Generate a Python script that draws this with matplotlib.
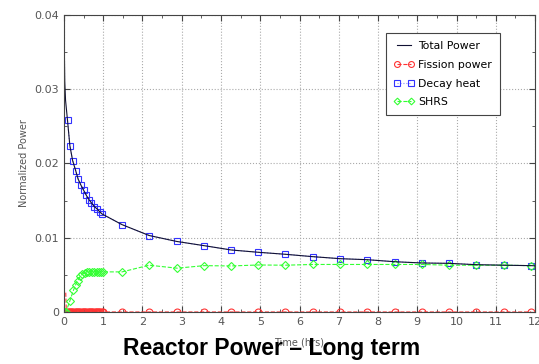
import matplotlib
matplotlib.use("Agg")
import matplotlib.pyplot as plt
from matplotlib.ticker import MultipleLocator

# Decay heat (blue squares)
decay_t = [0.09, 0.15, 0.22, 0.30, 0.36, 0.43, 0.50, 0.57, 0.64, 0.70, 0.77, 0.84, 0.91, 0.97,
           1.48, 2.17, 2.87, 3.56, 4.26, 4.95, 5.64, 6.34, 7.03, 7.73, 8.42, 9.12, 9.81, 10.5, 11.2, 11.9]
decay_v = [0.0258, 0.0224, 0.0204, 0.0190, 0.0179, 0.0171, 0.0164, 0.0157, 0.0151, 0.0147, 0.0142,
           0.0139, 0.0135, 0.0132, 0.01176, 0.0103, 0.0095, 0.00894, 0.00835, 0.00804, 0.00777,
           0.00745, 0.00718, 0.00704, 0.00677, 0.0066, 0.00655, 0.00637, 0.0063, 0.00624]

# Total power (black line)
total_t = [0.0, 0.01, 0.02, 0.04, 0.09, 0.15, 0.22, 0.30, 0.36, 0.43, 0.50, 0.57, 0.64, 0.70, 0.77,
           0.84, 0.91, 0.97, 1.48, 2.17, 2.87, 3.56, 4.26, 4.95, 5.64, 6.34, 7.03, 7.73, 8.42, 9.12,
           9.81, 10.5, 11.2, 11.9, 12.0]
total_v = [0.0388, 0.035, 0.031, 0.0285, 0.0258, 0.0224, 0.0204, 0.0190, 0.0179, 0.0171, 0.0164,
           0.0157, 0.0151, 0.0147, 0.0142, 0.0139, 0.0135, 0.0132, 0.01176, 0.0103, 0.0095, 0.00894,
           0.00835, 0.00804, 0.00777, 0.00745, 0.00718, 0.00704, 0.00677, 0.0066, 0.00655, 0.00637,
           0.0063, 0.00624, 0.00622]

# Fission power (red circles)
fission_t = [0.045, 0.06, 0.09, 0.12, 0.15, 0.18, 0.21, 0.24, 0.27, 0.30, 0.33, 0.36, 0.39, 0.42,
             0.45, 0.48, 0.51, 0.54, 0.57, 0.60, 0.63, 0.66, 0.69, 0.72, 0.75, 0.78, 0.81, 0.84,
             0.87, 0.90, 0.93, 0.96, 0.99, 1.48, 2.17, 2.87, 3.56, 4.26, 4.95, 5.64, 6.34, 7.03,
             7.73, 8.42, 9.12, 9.81, 10.5, 11.2, 11.9]
fission_v = [0.0026] + [0.0] * 48

# SHRS (green diamonds)
shrs_t = [0.02, 0.05, 0.15, 0.24, 0.30, 0.35, 0.41, 0.47, 0.53, 0.59, 0.65, 0.71, 0.77, 0.83,
          0.89, 0.95, 0.99, 1.48, 2.17, 2.88, 3.57, 4.26, 4.95, 5.64, 6.34, 7.03, 7.73, 8.42,
          9.12, 9.81, 10.5, 11.2, 11.9]
shrs_v = [0.0, 0.0, 0.0015, 0.0029, 0.0037, 0.0042, 0.0048, 0.0051, 0.0053, 0.0054, 0.0054, 0.0054,
          0.0054, 0.0054, 0.0054, 0.0054, 0.0054, 0.0054, 0.0063, 0.0059, 0.00624, 0.0062, 0.00633,
          0.0063, 0.0064, 0.0064, 0.0064, 0.0064, 0.0064, 0.0063, 0.0063, 0.0063, 0.00624]

fig = plt.figure(figsize=(5.39, 3.64), dpi=100)
ax = fig.add_axes([0.1187, 0.1429, 0.874, 0.816])

ax.plot(fission_t, fission_v, color='#ff3333', ls='--', lw=0.8, marker='o', ms=5,
        mfc='none', mec='#ff3333', mew=0.8, markevery=slice(1, None), label='Fission power')
ax.plot(decay_t, decay_v, color='#8888ff', ls=':', lw=0.8, marker='s', ms=5,
        mfc='none', mec='#3333ff', mew=0.8, label='Decay heat')
ax.plot(shrs_t, shrs_v, color='#33ff33', ls='--', lw=0.8, marker='D', ms=4,
        mfc='none', mec='#33ff33', mew=0.8, label='SHRS')
ax.plot(total_t, total_v, color='#111133', lw=0.8, label='Total Power')

ax.set_xlim(0, 12)
ax.set_ylim(0, 0.04)
ax.xaxis.set_major_locator(MultipleLocator(1))
ax.xaxis.set_minor_locator(MultipleLocator(0.5))
ax.yaxis.set_major_locator(MultipleLocator(0.01))
ax.yaxis.set_minor_locator(MultipleLocator(0.005))
ax.yaxis.set_major_formatter(plt.FuncFormatter(lambda v, p: '0' if v == 0 else '%g' % v))
ax.tick_params(which='both', direction='in', top=True, right=True, colors='#444444',
               labelsize=8, labelcolor='#555555')
ax.tick_params(which='major', length=4)
ax.tick_params(which='minor', length=2)
ax.grid(True, which='major', ls=':', color='#aaaaaa', lw=0.8)
for s in ax.spines.values():
    s.set_color('#444444')
    s.set_linewidth(0.8)

ax.set_ylabel('Normalized Power', fontsize=7, color='#555555', labelpad=4)
ax.set_xlabel('Time (hrs)', fontsize=7, color='#555555')
ax.xaxis.set_label_coords(0.5, -0.085)

handles, labels = ax.get_legend_handles_labels()
order = [3, 0, 1, 2]
leg = ax.legend([handles[i] for i in order], [labels[i] for i in order],
                loc='upper right', bbox_to_anchor=(0.932, 0.95), fontsize=7.8,
                fancybox=False, edgecolor='#444444', framealpha=1, handlelength=1.9,
                numpoints=2, markerscale=0.85, borderpad=0.75, labelspacing=0.8,
                handletextpad=0.3, borderaxespad=0.3)
leg.get_frame().set_linewidth(0.8)

fig.text(0.503, 0.01, 'Reactor Power \u2013 Long term', ha='center', va='bottom',
         fontsize=16.5, fontweight='bold', family='Liberation Sans')

fig.savefig('out.png', dpi=100)
